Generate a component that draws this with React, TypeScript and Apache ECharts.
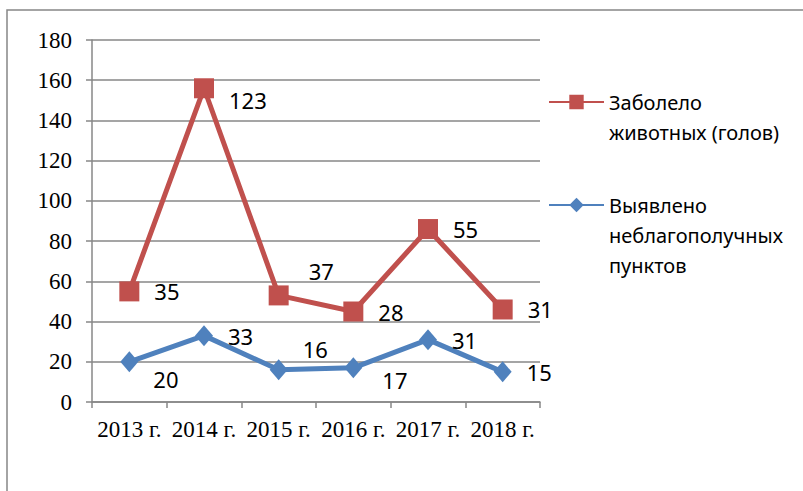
import React, { useEffect, useRef } from "react";
import * as echarts from "echarts";

const categories = ["2013 г.", "2014 г.", "2015 г.", "2016 г.", "2017 г.", "2018 г."];
const sickAnimals = [35, 123, 37, 28, 55, 31];
const unsafePoints = [20, 33, 16, 17, 31, 15];
const seriesNames = ["Заболело животных (голов)", "Выявлено неблагополучных пунктов"];
const legendLines = [
  ["Заболело", "животных (голов)"],
  ["Выявлено", "неблагополучных", "пунктов"],
];
const yMin = 0;
const yMax = 180;
const yInterval = 20;

// label nudges (style, not data)
const sickLabelOffsets = [[0, 0], [0, 12], [5, -24], [0, 0], [0, 0], [0, 0]];
const pointLabelOffsets = [[0, 17], [0, 0], [0, -21], [5, 12], [0, 0], [0, 0]];

const RED = "#C0504D";
const BLUE = "#4F81BD";
const GRID = "#878787";

// centre the first text line on the legend icon by padding with blank lines above
const legendFormat = (lines: string[]) =>
  "\n".repeat(lines.length - 1) + lines.join("\n");

export default function App() {
  const ref = useRef<HTMLDivElement>(null);
  useEffect(() => {
    if (!ref.current) return;
    const chart = echarts.init(ref.current, undefined, { renderer: "svg" });
    const labelStyle = {
      show: true,
      position: "right",
      distance: 15,
      color: "#000",
      fontFamily: "Noto Sans",
      fontSize: 22,
    };
    const legendText = {
      fontFamily: "Noto Sans",
      fontSize: 20,
      lineHeight: 30,
      color: "#000",
    };
    chart.setOption({
      animation: false,
      backgroundColor: "#fff",
      graphic: [
        {
          type: "rect",
          shape: { x: 7, y: 10, width: 900, height: 600 },
          style: { fill: "none", stroke: GRID, lineWidth: 1.5 },
          silent: true,
        },
      ],
      grid: { left: 92, right: 263, top: 40, bottom: 89 },
      legend: [
        {
          left: 548,
          top: 57,
          padding: 0,
          itemWidth: 55,
          itemHeight: 18,
          itemGap: 5,
          data: [seriesNames[0]],
          formatter: () => legendFormat(legendLines[0]),
          textStyle: legendText,
        },
        {
          left: 548,
          top: 130,
          padding: 0,
          itemWidth: 55,
          itemHeight: 18,
          data: [seriesNames[1]],
          formatter: () => legendFormat(legendLines[1]),
          textStyle: legendText,
        },
      ],
      xAxis: {
        type: "category",
        data: categories,
        boundaryGap: true,
        axisLine: { lineStyle: { color: GRID, width: 1.5 } },
        axisTick: { show: true, length: 6, lineStyle: { color: GRID, width: 1.5 } },
        axisLabel: {
          interval: 0,
          color: "#000",
          fontFamily: "Liberation Serif",
          fontSize: 23,
          margin: 16,
        },
      },
      yAxis: {
        type: "value",
        min: yMin,
        max: yMax,
        interval: yInterval,
        axisLine: { show: true, lineStyle: { color: GRID, width: 1.5 } },
        axisTick: { show: true, length: 6, lineStyle: { color: GRID, width: 1.5 } },
        splitLine: { show: true, lineStyle: { color: GRID, width: 1.5 } },
        axisLabel: {
          color: "#000",
          fontFamily: "Liberation Serif",
          fontSize: 23,
          margin: 20,
        },
      },
      series: [
        {
          name: seriesNames[1],
          type: "line",
          stack: "total",
          data: unsafePoints.map((v, i) => ({
            value: v,
            label: { offset: pointLabelOffsets[i] },
          })),
          symbol: "diamond",
          symbolSize: [18, 21],
          lineStyle: { color: BLUE, width: 5 },
          itemStyle: { color: BLUE },
          label: labelStyle,
          z: 3,
        },
        {
          name: seriesNames[0],
          type: "line",
          stack: "total",
          data: sickAnimals.map((v, i) => ({
            value: v,
            label: { offset: sickLabelOffsets[i] },
          })),
          symbol: "rect",
          symbolSize: 20,
          lineStyle: { color: RED, width: 5 },
          itemStyle: { color: RED },
          label: labelStyle,
          z: 2,
        },
      ],
    });
    return () => chart.dispose();
  }, []);
  return (
    <div
      ref={ref}
      style={{ position: "fixed", left: 0, top: 0, width: 803, height: 491 }}
    />
  );
}
